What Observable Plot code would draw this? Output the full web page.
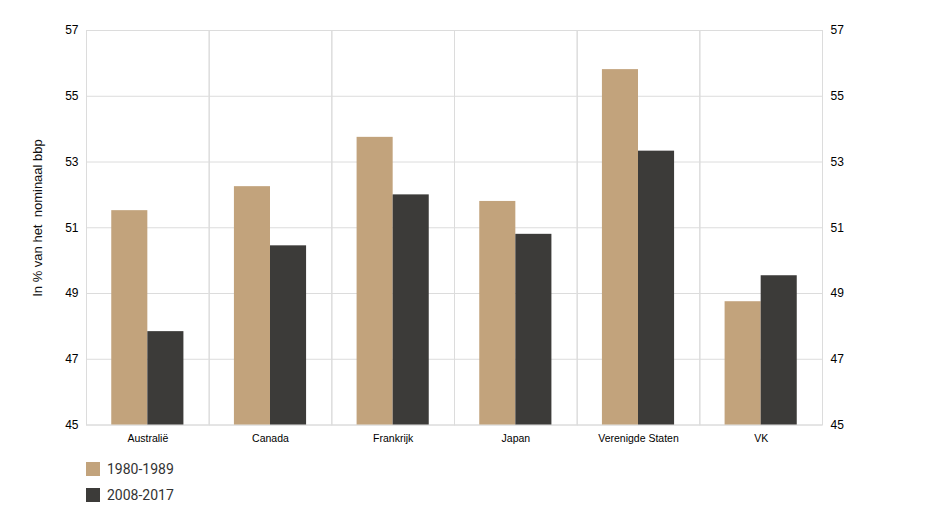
<!DOCTYPE html>
<html><head><meta charset="utf-8">
<script src="https://cdn.jsdelivr.net/npm/d3@7"></script>
<script src="https://cdn.jsdelivr.net/npm/@observablehq/plot@0.6"></script>
<style>
body{margin:0;background:#fff;}
#chart{position:relative;width:927px;}
.legend{margin-left:86px;padding-top:6px;font-family:Roboto,sans-serif;font-size:14px;color:#333;}
.row{display:flex;align-items:center;height:26px;}
.sw{width:14px;height:14px;margin-right:7px;}
</style></head><body><div id="chart"></div>
<script>
const countries = ["Australië","Canada","Frankrijk","Japan","Verenigde Staten","VK"];
const periods = ["1980-1989","2008-2017"];
const values1980 = [51.52,52.25,53.75,51.8,55.81,48.75];
const values2008 = [47.84,50.45,52.0,50.8,53.33,49.54];
const yTicks = [45,47,49,51,53,55,57];
const colors = ["#c2a37c","#3c3b39"];
const yLabel = "In % van het  nominaal bbp";

const data = [];
countries.forEach((c,i)=>{
  data.push({country:c, period:periods[0], value:values1980[i]});
  data.push({country:c, period:periods[1], value:values2008[i]});
});

const plot = Plot.plot({
  width: 927,
  height: 450,
  marginLeft: 86,
  marginRight: 105,
  marginTop: 30,
  marginBottom: 25.5,
  style: {fontFamily: "'Liberation Sans', Arial, sans-serif", fontSize: "12px", color: "#000", background: "#fff"},
  fx: {domain: countries, padding: 0, round: false, label: null},
  x: {domain: periods, paddingInner: 0, paddingOuter: 0.7, round: false, axis: null},
  y: {domain: [45,57], ticks: yTicks, label: null},
  color: {domain: periods, range: colors},
  marks: [
    Plot.gridY(yTicks, {stroke: "#dcdcdc", strokeOpacity: 1}),
    Plot.frame({stroke: "#dcdcdc", strokeOpacity: 1}),
    Plot.barY(data, {fx: "country", x: "period", y1: 45, y2: "value", fill: "period"}),
    Plot.axisY(yTicks, {anchor: "left", tickSize: 0, tickPadding: 8, label: null, fontSize: 12}),
    Plot.axisY(yTicks, {anchor: "right", tickSize: 0, tickPadding: 8, label: null, fontSize: 12}),
    Plot.axisFx({anchor: "bottom", tickSize: 0, tickPadding: 10, label: null, fontSize: 10.5})
  ]
});
document.getElementById("chart").appendChild(plot);

const svg = d3.select(plot);
svg.append("text")
  .attr("transform", "translate(39,218) rotate(-90)")
  .attr("text-anchor", "middle")
  .attr("dominant-baseline", "middle")
  .style("font-family", "'Liberation Sans', Arial, sans-serif")
  .style("font-size", "13px")
  .style("fill", "#111")
  .style("white-space", "pre")
  .text(yLabel);

const legend = d3.select("#chart").append("div").attr("class","legend");
periods.forEach((p,i)=>{
  const row = legend.append("div").attr("class","row");
  row.append("div").attr("class","sw").style("background", colors[i]);
  row.append("span").text(p);
});
</script></body></html>
